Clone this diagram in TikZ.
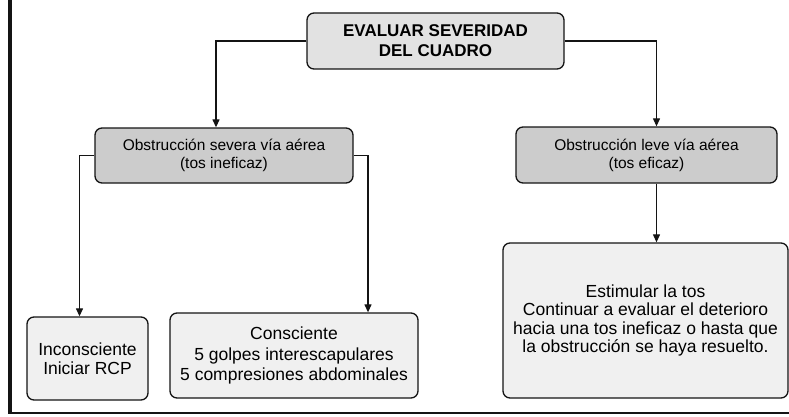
\documentclass[tikz,border=0pt]{standalone}
\usepackage{fontspec}
\setmainfont{Liberation Sans}
\usetikzlibrary{arrows.meta,positioning}
\usepackage{xcolor}
\definecolor{boxlight}{RGB}{240,240,240}
\definecolor{boxtop}{RGB}{226,226,226}
\definecolor{boxmid}{RGB}{204,204,204}
\definecolor{lineblack}{RGB}{20,20,20}

\begin{document}
\begin{tikzpicture}[
  x=1pt, y=-1pt,
  card/.style={rectangle, draw=lineblack, rounded corners=7pt, align=center, inner sep=2pt, line width=1.3pt, font=\fontsize{15.5}{18}\selectfont},
  big/.style={font=\fontsize{17.5}{18.5}\selectfont},
  arr/.style={-{Triangle[length=8pt, width=7pt]}, line width=1.2pt, draw=lineblack}
]
\useasboundingbox (0,0) rectangle (789,417);
\draw[line width=4pt, lineblack] (10,0) -- (10,413);
\draw[line width=1.8pt, lineblack] (8,413) -- (789,413);

\node[card, fill=boxtop, minimum width=257pt, minimum height=56pt, font=\fontsize{17}{20}\selectfont\bfseries] (top) at (435.5,41) {EVALUAR SEVERIDAD\\DEL CUADRO};
\node[card, fill=boxmid, minimum width=258pt, minimum height=55pt] (sev) at (224,155.5) {Obstrucción severa vía aérea\\(tos ineficaz)};
\node[card, fill=boxmid, minimum width=261pt, minimum height=56pt] (leve) at (646.5,155) {Obstrucción leve vía aérea\\(tos eficaz)};
\node[card, big, fill=boxlight, minimum width=121pt, minimum height=83pt] (incons) at (87.5,358.5) {Inconsciente\\Iniciar RCP};
\node[card, big, fill=boxlight, minimum width=248pt, minimum height=85pt, font=\fontsize{17.5}{20.5}\selectfont] (consc) at (294,355.5) {Consciente\\5 golpes interescapulares\\5 compresiones abdominales};
\node[card, big, fill=boxlight, minimum width=285pt, minimum height=155pt] (estim) at (645.5,320.5) {Estimular la tos\\Continuar a evaluar el deterioro\\hacia una tos ineficaz o hasta que\\la obstrucción se haya resuelto.};

\draw[arr] (top.west) -| ([xshift=-8pt]sev.north);
\draw[arr] (top.east) -| ([xshift=10pt]leve.north);
\draw[arr] (sev.west) -| ([xshift=-8pt]incons.north);
\draw[arr] (sev.east) -| ([xshift=74pt]consc.north);
\draw[arr] ([xshift=10pt]leve.south) -- ([xshift=10pt]leve.south |- estim.north);
\end{tikzpicture}
\end{document}
